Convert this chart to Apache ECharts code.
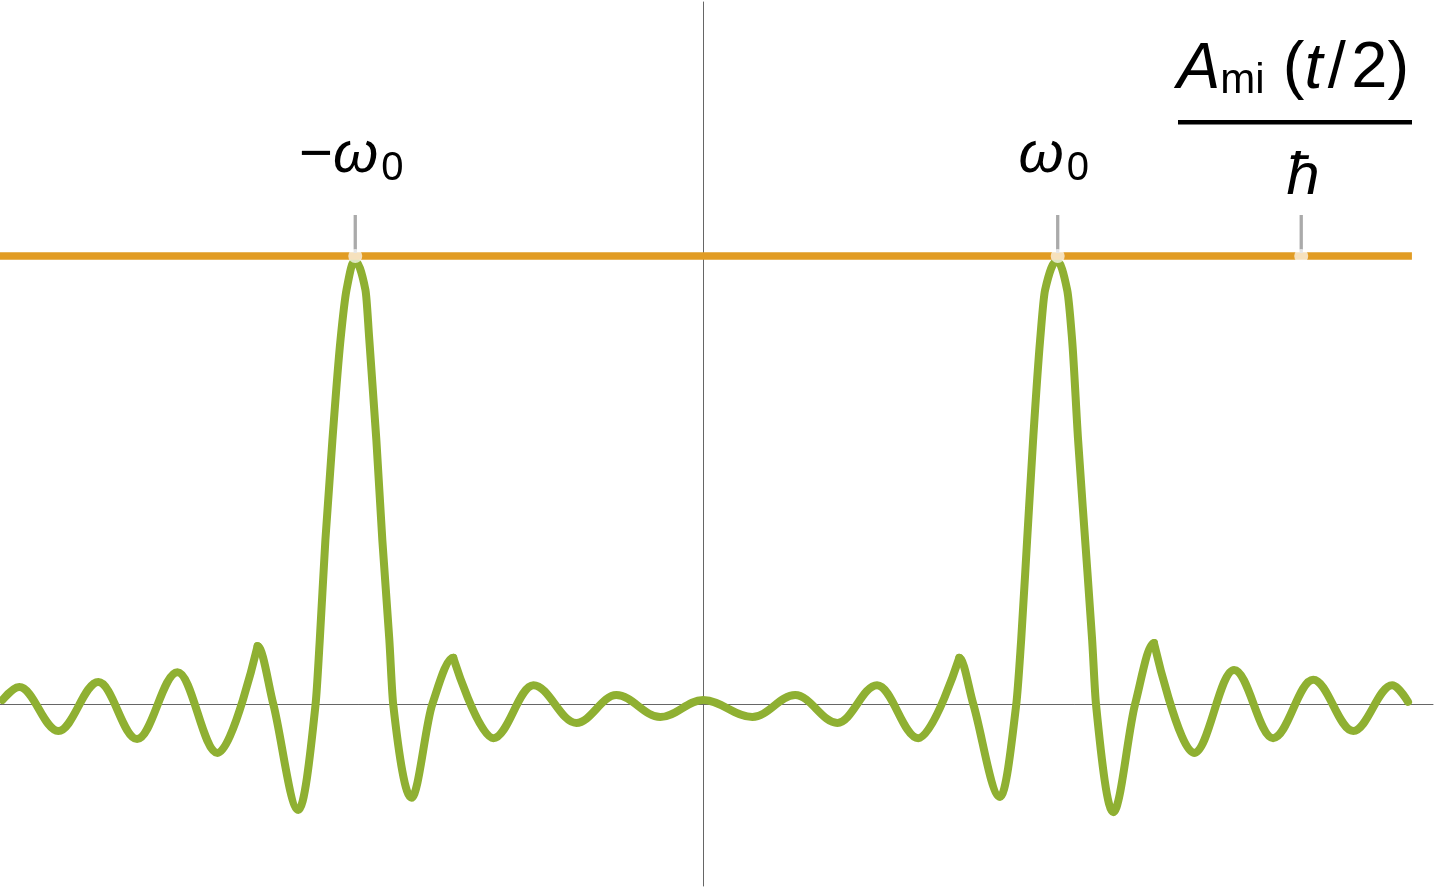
<!DOCTYPE html>
<html>
<head>
<meta charset="utf-8">
<script src="https://cdn.jsdelivr.net/npm/echarts@6/dist/echarts.min.js"></script>
<style>
html,body{margin:0;padding:0;background:#ffffff;}
#chart{width:1440px;height:892px;}
</style>
</head>
<body>
<div id="chart"></div>
<script>
// ---- data (x in units of omega0, y in units of the orange level) ----
// side lobes: start/end point and the extrema of each ripple
const sideLobesLeft = [
  [-1.993, 0.010], [-1.945, 0.039], [-1.834, -0.059], [-1.720, 0.050], [-1.610, -0.077],
  [-1.495, 0.072], [-1.381, -0.108], [-1.267, 0.130]
];
// main lobes: from the ripple peak before to the ripple peak after, through troughs,
// zero crossings and the flanks of the big peak
const mainLobeLeft = [
  [-1.267, 0.130], [-1.222, 0.000], [-1.151, -0.235],
  [-1.102, 0.000], [-1.090, 0.144], [-1.074, 0.367], [-1.054, 0.590],
  [-1.031, 0.813], [-1.014, 0.924], [-0.991, 0.990], [-0.960, 0.924], [-0.949, 0.813],
  [-0.929, 0.590], [-0.912, 0.367], [-0.892, 0.144], [-0.881, 0.000],
  [-0.829, -0.208], [-0.770, 0.000], [-0.710, 0.104]
];
const sideLobesCenter = [
  [-0.710, 0.104], [-0.596, -0.075], [-0.482, 0.043], [-0.360, -0.041],
  [-0.246, 0.021], [-0.121, -0.028], [0.001, 0.010], [0.141, -0.028], [0.263, 0.021],
  [0.383, -0.041], [0.496, 0.043], [0.613, -0.075], [0.730, 0.104]
];
const mainLobeRight = [
  [0.730, 0.104], [0.770, 0.000], [0.846, -0.206],
  [0.892, 0.000], [0.906, 0.144], [0.923, 0.367], [0.940, 0.590],
  [0.960, 0.813], [0.974, 0.924], [1.008, 0.990], [1.037, 0.924], [1.051, 0.813],
  [1.068, 0.590], [1.088, 0.367], [1.108, 0.144], [1.119, 0.000],
  [1.168, -0.240], [1.230, 0.000], [1.284, 0.137]
];
const sideLobesRight = [
  [1.284, 0.137], [1.398, -0.108], [1.512, 0.077], [1.623, -0.075],
  [1.737, 0.055], [1.851, -0.059], [1.962, 0.043], [2.007, 0.006]
];
const levelX = [-2.0, 2.018];
const levelValue = 1;
const tickPositions = [-0.989, 1.010, 1.703];
const tickMain = ['−ω', 'ω', 'ħ'];
const tickSub = ['0', '0', ''];
const fractionNumerator = ['A', 'mi', ' (', 't', '\u200a/\u200a2)'];

// ---- chart ----
const GREEN = '#8FB032';
const ORANGE = '#E19C24';
const FONT = '"Liberation Sans", Arial, sans-serif';
const MAIN_SIZE = 58, SUB_SIZE = 40, HBAR_SIZE = 60;
const FRAC_SIZE = 65, FRAC_SUB = 42;

const measureCtx = document.createElement('canvas').getContext('2d');
function textWidth(str, size, style) {
  measureCtx.font = (style || 'normal') + ' ' + size + 'px ' + FONT;
  return measureCtx.measureText(str).width;
}

const greenStyle = {color: GREEN, width: 8, cap: 'round', join: 'round'};
function rippleSeries(data) {
  return {type: 'line', data: data, smooth: 0.363, smoothMonotone: 'x', showSymbol: false,
          lineStyle: greenStyle, z: 3};
}

// monotone cubic (Fritsch–Carlson) path through the pixel positions of read points;
// end points are ripple peaks, so their tangents are horizontal
function monotonePath(pts) {
  const n = pts.length;
  const h = [], d = [], m = new Array(n).fill(0);
  for (let i = 0; i < n - 1; i++) {
    h[i] = pts[i + 1][0] - pts[i][0];
    d[i] = (pts[i + 1][1] - pts[i][1]) / h[i];
  }
  for (let i = 1; i < n - 1; i++) {
    if (d[i - 1] * d[i] <= 0) { m[i] = 0; continue; }
    const w1 = 2 * h[i] + h[i - 1], w2 = h[i] + 2 * h[i - 1];
    m[i] = (w1 + w2) / (w1 / d[i - 1] + w2 / d[i]);
  }
  let s = 'M' + pts[0][0] + ',' + pts[0][1];
  for (let i = 0; i < n - 1; i++) {
    const t = h[i] / 3;
    s += ' C' + (pts[i][0] + t) + ',' + (pts[i][1] + m[i] * t) + ' ' +
         (pts[i + 1][0] - t) + ',' + (pts[i + 1][1] - m[i + 1] * t) + ' ' +
         pts[i + 1][0] + ',' + pts[i + 1][1];
  }
  return s;
}
const mainLobes = [mainLobeLeft, mainLobeRight];

const levelData = levelX.map(x => [x, levelValue]);
const tickData = tickPositions.map((x, i) => [x, levelValue, i]);

const chart = echarts.init(document.getElementById('chart'), null, {renderer: 'canvas'});

chart.setOption({
  backgroundColor: '#ffffff',
  animation: false,
  grid: {left: 0, right: 7, top: 2, bottom: 6, containLabel: false},
  xAxis: {
    type: 'value', min: -2.0, max: 2.078,
    axisLine: {show: true, onZero: true, lineStyle: {color: '#666666', width: 1}},
    axisTick: {show: false}, axisLabel: {show: false}, splitLine: {show: false}
  },
  yAxis: {
    type: 'value', min: -0.4047, max: 1.5663,
    axisLine: {show: true, onZero: true, lineStyle: {color: '#666666', width: 1}},
    axisTick: {show: false}, axisLabel: {show: false}, splitLine: {show: false}
  },
  series: [
    rippleSeries(sideLobesLeft),
    rippleSeries(sideLobesCenter),
    rippleSeries(sideLobesRight),
    {
      type: 'custom', z: 3, clip: false,
      data: mainLobes.map((lobe, i) => [lobe[0][0], lobe[0][1], i]),
      renderItem: function (params, api) {
        const lobe = mainLobes[api.value(2)];
        const pts = lobe.map(p => api.coord(p));
        return {
          type: 'path',
          shape: {pathData: monotonePath(pts)},
          style: {fill: 'none', stroke: GREEN, lineWidth: 8, lineCap: 'round', lineJoin: 'round'}
        };
      }
    },
    {
      type: 'line', data: levelData, showSymbol: false,
      lineStyle: {color: ORANGE, width: 7.5}, z: 4
    },
    {
      type: 'custom', data: tickData, z: 10, clip: false,
      renderItem: function (params, api) {
        const i = api.value(2);
        const p = api.coord([api.value(0), api.value(1)]);
        const cx = p[0], cy = p[1];
        const children = [
          {type: 'line', shape: {x1: cx, y1: cy - 41, x2: cx, y2: cy - 3},
           style: {stroke: '#aaaaaa', lineWidth: 3.3}},
          {type: 'circle', shape: {cx: cx, cy: cy, r: 7},
           style: {fill: 'rgba(255,255,255,0.7)'}}
        ];
        const main = tickMain[i], sub = tickSub[i];
        if (sub) {
          const minusPart = main.startsWith('−') ? '−' : '';
          const greek = main.replace('−', '');
          const wMain = textWidth(minusPart, MAIN_SIZE) + textWidth(greek, MAIN_SIZE, 'italic');
          const wSub = textWidth(sub, SUB_SIZE);
          const gap = 3;
          const left = cx - 4 - (wMain + gap + wSub) / 2;
          children.push({
            type: 'text', x: left, y: cy - 100,
            style: {
              text: (minusPart ? '{n|' + minusPart + '}' : '') + '{i|' + greek + '}',
              align: 'left', verticalAlign: 'middle', fill: '#000',
              fontFamily: FONT, fontSize: MAIN_SIZE,
              rich: {
                n: {fontFamily: FONT, fontSize: MAIN_SIZE, fontStyle: 'normal', fill: '#000'},
                i: {fontFamily: FONT, fontSize: MAIN_SIZE, fontStyle: 'italic', fill: '#000'}
              }
            }
          });
          children.push({
            type: 'text', x: left + wMain + gap, y: cy - 87,
            style: {text: sub, align: 'left', verticalAlign: 'middle', fill: '#000',
                    fontFamily: FONT, fontSize: SUB_SIZE}
          });
        } else {
          children.push({
            type: 'text', x: cx + 2, y: cy - 79,
            style: {text: main, align: 'center', verticalAlign: 'middle', fill: '#000',
                    fontFamily: FONT, fontSize: HBAR_SIZE, fontStyle: 'italic'}
          });
        }
        return {type: 'group', children: children};
      }
    }
  ],
  graphic: [
    {
      type: 'text', left: 1177, top: 37, z: 20,
      style: {
        text: '{it|' + fractionNumerator[0] + '}{sb|' + fractionNumerator[1] + '}{up|' + fractionNumerator[2] +
              '}{it|' + fractionNumerator[3] + '}{up|' + fractionNumerator[4] + '}',
        fill: '#000', fontFamily: FONT, fontSize: FRAC_SIZE,
        rich: {
          it: {fontFamily: FONT, fontSize: FRAC_SIZE, fontStyle: 'italic', lineHeight: FRAC_SIZE, verticalAlign: 'bottom', fill: '#000'},
          up: {fontFamily: FONT, fontSize: FRAC_SIZE, fontStyle: 'normal', lineHeight: FRAC_SIZE, verticalAlign: 'bottom', fill: '#000'},
          sb: {fontFamily: FONT, fontSize: FRAC_SUB, fontStyle: 'normal', lineHeight: 49, verticalAlign: 'bottom', fill: '#000'}
        }
      }
    },
    {
      type: 'rect', left: 1178, top: 120, z: 20,
      shape: {width: 234, height: 4.5},
      style: {fill: '#000'}
    }
  ]
});
</script>
</body>
</html>
